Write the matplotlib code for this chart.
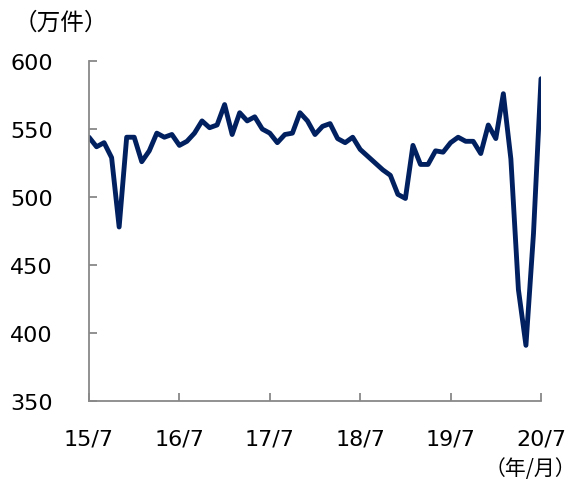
import matplotlib
matplotlib.use('Agg')
import matplotlib.pyplot as plt

plt.rcParams['font.family'] = ['DejaVu Sans', 'Noto Sans CJK JP']

# monthly values, 2015/7 .. 2020/7 (万件)
values = [544, 537, 540, 529, 478, 544, 544, 526, 534, 547, 544, 546,
          538, 541, 547, 556, 551, 553, 568, 546, 562, 556, 559, 550,
          547, 540, 546, 547, 562, 556, 546, 552, 554, 543, 540, 544,
          535, 530, 525, 520, 516, 502, 499, 538, 524, 524, 534, 533,
          540, 544, 541, 541, 532, 553, 543, 576, 528, 432, 391, 473,
          587]
tick_labels = ['15/7', '16/7', '17/7', '18/7', '19/7', '20/7']
y_ticks = [350, 400, 450, 500, 550, 600]

fig = plt.figure(figsize=(5.78, 4.81), dpi=100)
ax = fig.add_axes([0.154, 0.164, 0.782, 0.707])

x = list(range(len(values)))
ax.plot(x, values, color='#002060', linewidth=3.5, solid_joinstyle='round',
        solid_capstyle='round')

ax.set_xlim(0, len(values) - 1)
ax.set_ylim(350, 600)
ax.set_xticks(range(0, len(values), 12))
ax.set_xticklabels(tick_labels)
ax.set_yticks(y_ticks)

for s in ['top', 'right']:
    ax.spines[s].set_visible(False)
for s in ['left', 'bottom']:
    ax.spines[s].set_color('#888888')
    ax.spines[s].set_linewidth(1.3)

ax.tick_params(axis='both', direction='in', length=6, width=1.3,
               color='#888888', labelsize=16, labelcolor='black')
ax.tick_params(axis='y', pad=26)
ax.tick_params(axis='x', pad=20)

fig.text(0.024, 0.952, '（万件）', fontsize=17, family=['Noto Sans CJK JP'],
         va='center', ha='left')
fig.text(0.997, 0.025, '（年/月）', fontsize=15, family=['Noto Sans CJK JP'],
         va='center', ha='right')

fig.savefig('out.png', dpi=100)
